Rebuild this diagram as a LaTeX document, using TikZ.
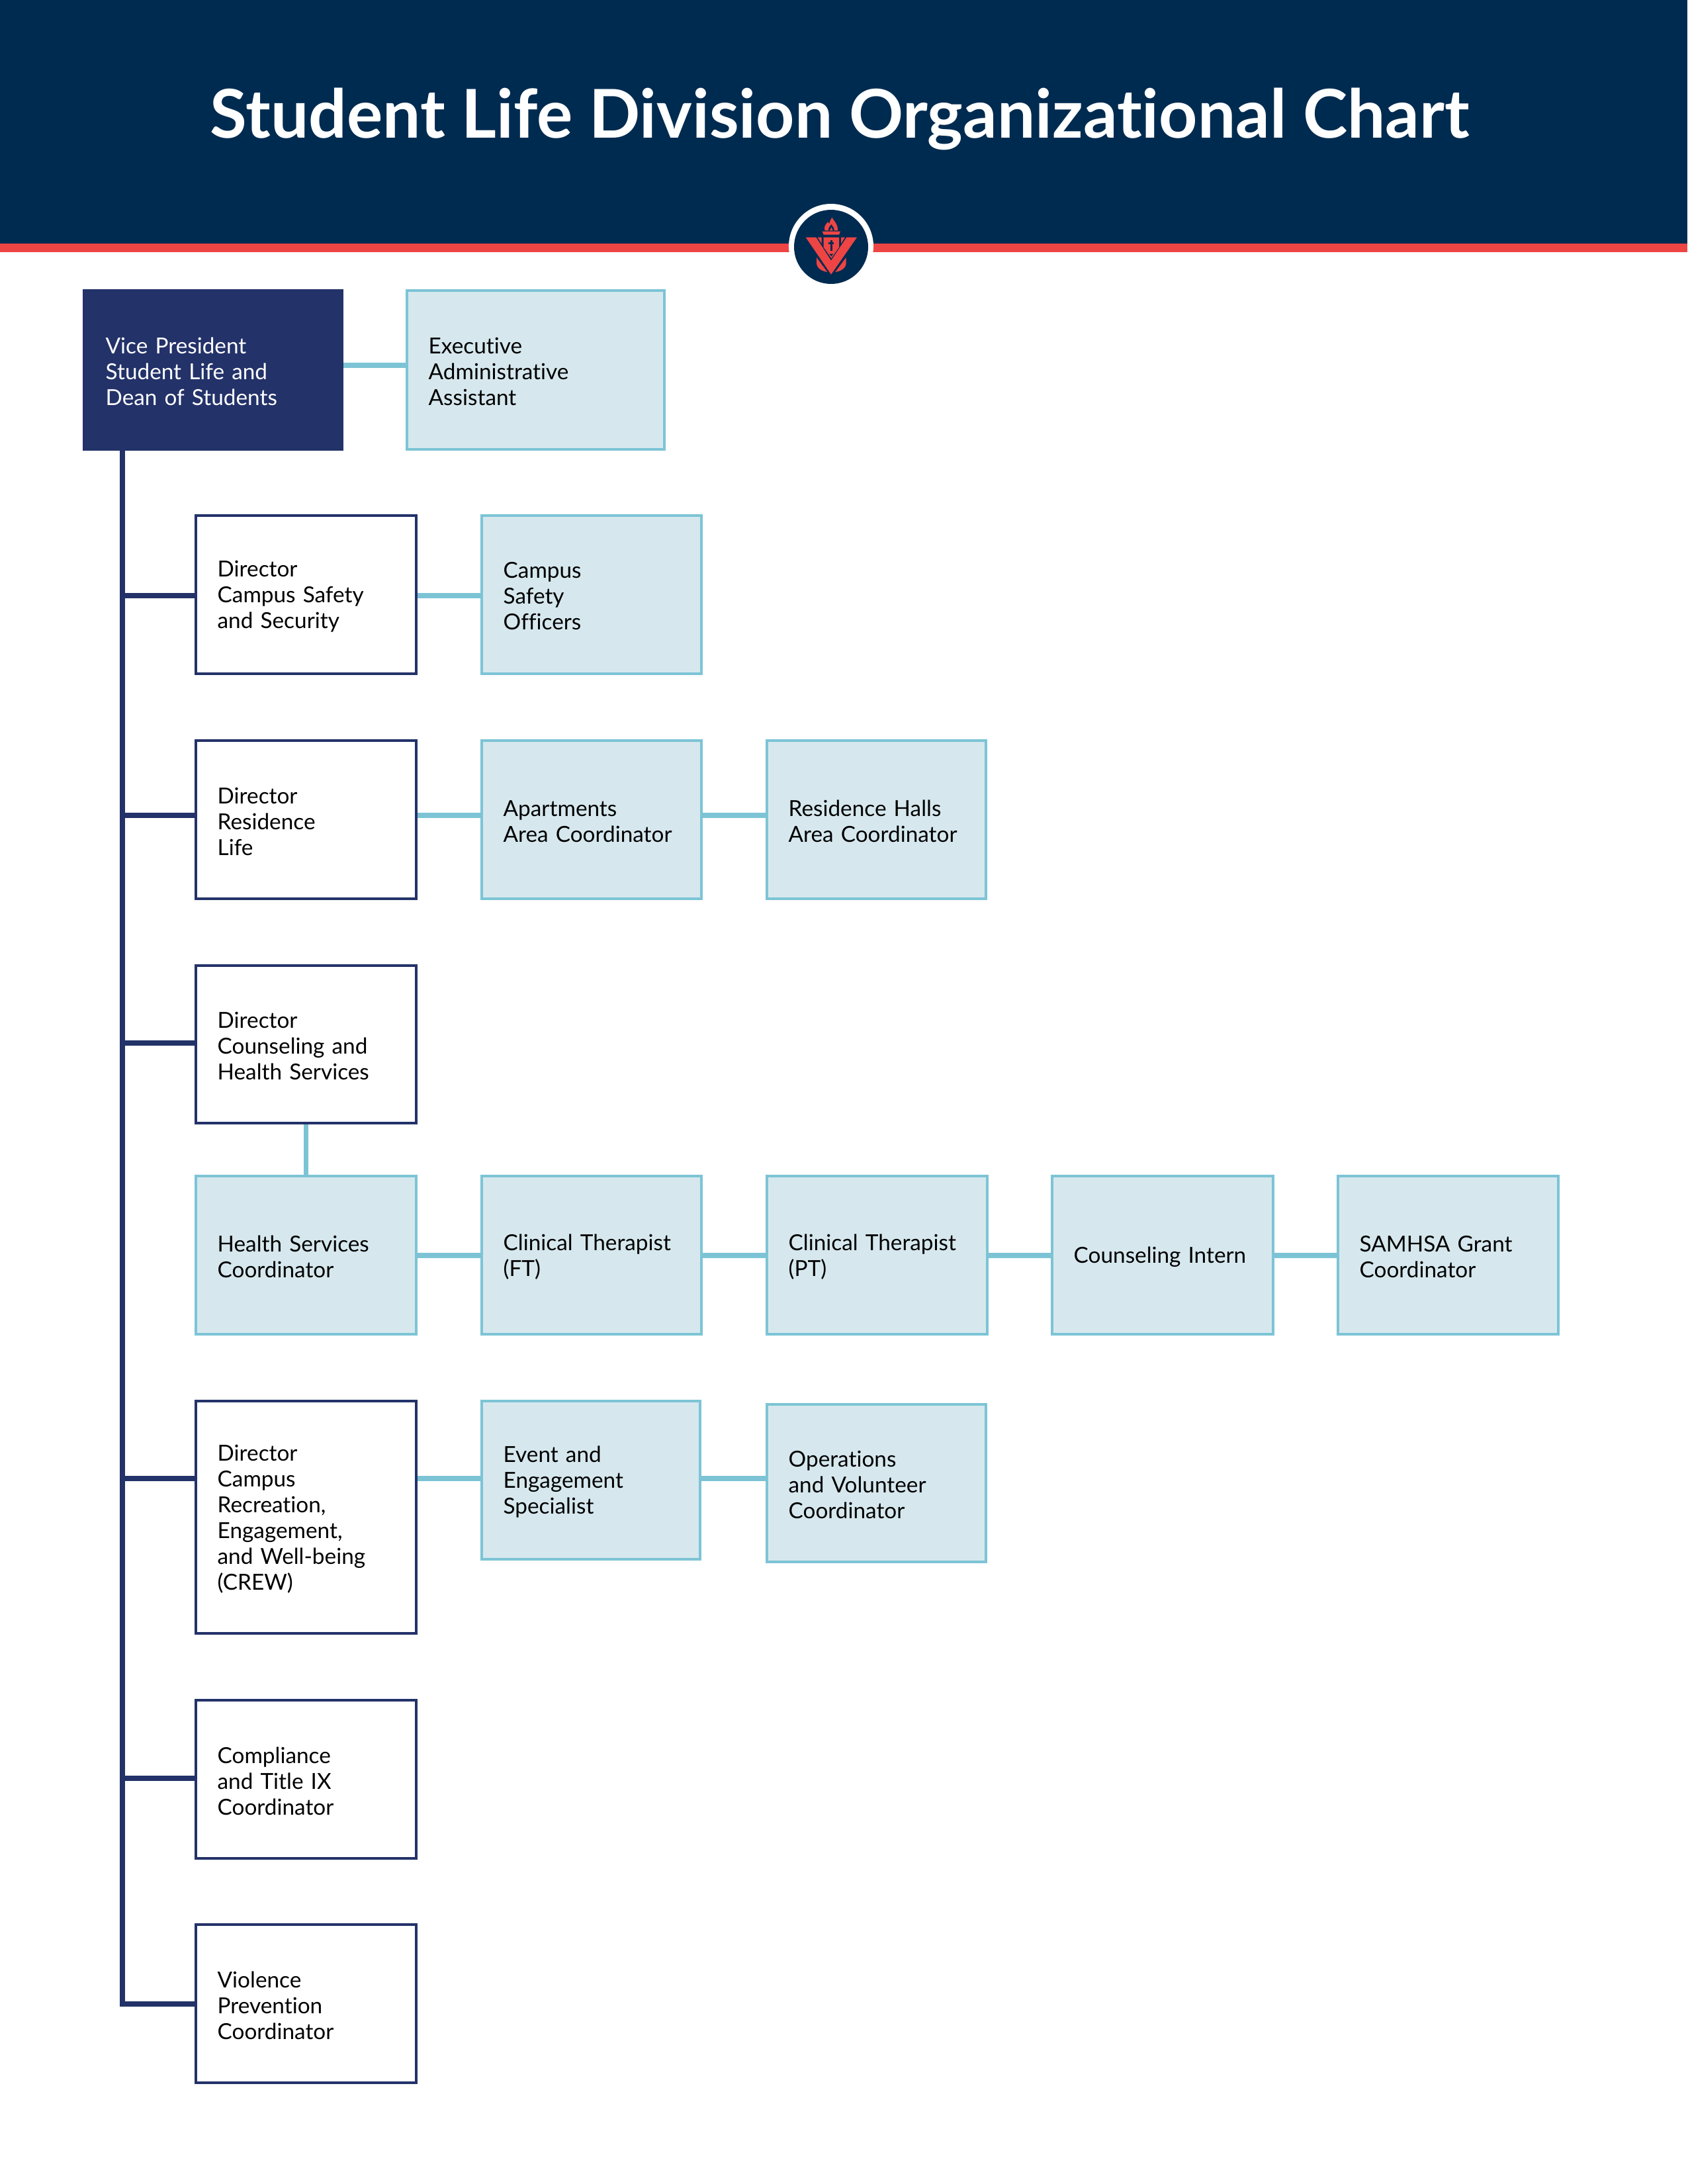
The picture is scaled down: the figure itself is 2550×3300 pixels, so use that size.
\documentclass[tikz,border=0pt]{standalone}
\usepackage{fontspec}
\setmainfont[Ligatures=NoCommon,Contextuals=NoAlternate]{Lato}
\usetikzlibrary{calc}
\definecolor{banner}{HTML}{002B50}
\definecolor{redbar}{HTML}{EF4444}
\definecolor{navybox}{HTML}{233269}
\definecolor{tealline}{HTML}{7CC4D5}
\definecolor{tealfill}{HTML}{D6E8EE}
\pgfdeclarelayer{connectors}
\pgfsetlayers{connectors,main}
\tikzset{
  chartbox/.style={draw,line width=0.9pt,inner xsep=7.9pt,inner ysep=0pt,outer sep=0pt,anchor=center,font=\fontsize{8.0}{9.36}\selectfont},
  vpbox/.style={chartbox,draw=navybox,fill=navybox,text=white},
  dirbox/.style={chartbox,draw=navybox,fill=white,text=black},
  staffbox/.style={chartbox,draw=tealline,fill=tealfill,text=black},
  navyline/.style={draw=navybox,line width=1.75pt},
  tealconn/.style={draw=tealline,line width=1.8pt},
}
\newcommand{\chartnode}[7]{%
  \pgfmathsetlengthmacro\boxw{(#5-#3-3.5)*0.24pt}%
  \pgfmathsetlengthmacro\boxh{(#6-#4-3.5)*0.24pt}%
  \pgfmathsetlengthmacro\boxt{\boxw-15.8pt}%
  \node[#2,minimum height=\boxh,text width=\boxt] (#1) at ({(#3+#5)/2},{(#4+#6)/2}) {\raisebox{-2.6pt}[0pt][0pt]{\parbox[c]{\boxt}{\raggedright\hyphenpenalty=10000 #7}}};%
}
\begin{document}
\begin{tikzpicture}[x=0.24pt,y=-0.24pt]
\useasboundingbox (0,0) rectangle (2550,3300);
\fill[banner] (0,0) rectangle (2550,368);
\fill[redbar] (0,368) rectangle (2550,381);
\node[text=white,font=\fontsize{24.4}{28}\selectfont\bfseries,inner sep=0pt] (title) at (1269,180) {Student Life Division Organizational Chart};
% logo
\fill[white] (1256,372) circle (64);
\fill[banner] (1256,373) circle (56);
\begin{scope}[shift={(1196,313)},x=0.08pt,y=-0.08pt]
  \fill[redbar] (65,137) -- (112,137) -- (180,242) -- (250,137) -- (297,137) -- (180,305) -- cycle;
  \fill[redbar] (119,137) -- (137,137) -- (137,165) -- cycle;
  \fill[redbar] (243,137) -- (225,137) -- (225,165) -- cycle;
  \fill[redbar] (146,137) -- (216,137) -- (216,182) -- (181,232) -- (146,182) -- cycle;
  \fill[banner] (176,150) rectangle (185,198);
  \fill[banner] (168,160) rectangle (193,167);
  \fill[banner] (172,212) -- (190,212) -- (181,223) -- cycle;
  \fill[redbar] (140,110) -- (222,110) -- (216,125) -- (146,125) -- cycle;
  \fill[redbar] (152,106) .. controls (146,92) and (154,76) .. (167,67) -- (172,76) .. controls (174,64) and (178,56) .. (184,47) .. controls (190,60) and (212,76) .. (210,106) -- cycle;
  \fill[banner] (168,106) .. controls (166,96) and (174,86) .. (181,78) .. controls (186,86) and (196,96) .. (194,106) -- cycle;
  \fill[redbar] (175,106) .. controls (176,100) and (179,96) .. (181,92) .. controls (183,96) and (187,100) .. (187,106) -- cycle;
  \fill[redbar] (114,228) -- (163,294) .. controls (135,290) and (114,275) .. (114,252) -- cycle;
  \fill[redbar] (248,228) -- (199,294) .. controls (227,290) and (248,275) .. (248,252) -- cycle;
\end{scope}
% boxes
\chartnode{vp}{vpbox}{125}{437}{519}{681}{Vice President\\Student Life and\\Dean of Students}
\chartnode{exec}{staffbox}{613}{437}{1006}{681}{Executive\\Administrative\\Assistant}
\chartnode{dira}{dirbox}{294}{777}{631}{1020}{Director\\Campus Safety\\and Security}
\chartnode{cso}{staffbox}{726}{777}{1062}{1020}{Campus\\Safety\\Officers}
\chartnode{dirb}{dirbox}{294}{1117}{631}{1360}{Director\\Residence\\Life}
\chartnode{apt}{staffbox}{726}{1117}{1062}{1360}{Apartments\\Area Coordinator}
\chartnode{rhall}{staffbox}{1157}{1117}{1492}{1360}{Residence Halls\\Area Coordinator}
\chartnode{dirc}{dirbox}{294}{1457}{631}{1699}{Director\\Counseling and\\Health Services}
\chartnode{hs}{staffbox}{294}{1775}{631}{2018}{Health Services\\Coordinator}
\chartnode{ft}{staffbox}{726}{1775}{1062}{2018}{Clinical Therapist\\(FT)}
\chartnode{pt}{staffbox}{1157}{1775}{1494}{2018}{Clinical Therapist\\(PT)}
\chartnode{intern}{staffbox}{1588}{1775}{1926}{2018}{Counseling Intern}
\chartnode{samhsa}{staffbox}{2020}{1775}{2357}{2018}{SAMHSA Grant\\Coordinator}
\chartnode{crew}{dirbox}{294}{2115}{631}{2470}{Director\\Campus\\Recreation,\\Engagement,\\and Well-being\\(CREW)}
\chartnode{event}{staffbox}{726}{2115}{1060}{2358}{Event and\\Engagement\\Specialist}
\chartnode{ops}{staffbox}{1157}{2120}{1492}{2362}{Operations\\and Volunteer\\Coordinator}
\chartnode{comp}{dirbox}{294}{2567}{631}{2810}{Compliance\\and Title IX\\Coordinator}
\chartnode{viol}{dirbox}{294}{2906}{631}{3149}{Violence\\Prevention\\Coordinator}
% connector anchor points
\coordinate (ttop) at (185,681);
\coordinate (ta) at (185,900);
\coordinate (tb) at (185,1232);
\coordinate (tc) at (185,1576);
\coordinate (td) at (185,2234);
\coordinate (te) at (185,2687);
\coordinate (tf) at (185,3028);
\coordinate (rowvp) at (185,552);
\coordinate (rowhs) at (185,1897);
\begin{pgfonlayer}{connectors}
\draw[navyline,line cap=rect] (ttop) -- (tf);
\draw[navyline] (ta) -- (ta -| dira.west);
\draw[navyline] (tb) -- (tb -| dirb.west);
\draw[navyline] (tc) -- (tc -| dirc.west);
\draw[navyline] (td) -- (td -| crew.west);
\draw[navyline] (te) -- (te -| comp.west);
\draw[navyline] (tf) -- (tf -| viol.west);
\draw[tealconn] (rowvp -| vp.east) -- (rowvp -| exec.west);
\draw[tealconn] (ta -| dira.east) -- (ta -| cso.west);
\draw[tealconn] (tb -| dirb.east) -- (tb -| apt.west);
\draw[tealconn] (tb -| apt.east) -- (tb -| rhall.west);
\draw[tealconn] (dirc.south) -- (hs.north);
\draw[tealconn] (rowhs -| hs.east) -- (rowhs -| ft.west);
\draw[tealconn] (rowhs -| ft.east) -- (rowhs -| pt.west);
\draw[tealconn] (rowhs -| pt.east) -- (rowhs -| intern.west);
\draw[tealconn] (rowhs -| intern.east) -- (rowhs -| samhsa.west);
\draw[tealconn] (td -| crew.east) -- (td -| event.west);
\draw[tealconn] (td -| event.east) -- (td -| ops.west);
\end{pgfonlayer}
\end{tikzpicture}
\end{document}
